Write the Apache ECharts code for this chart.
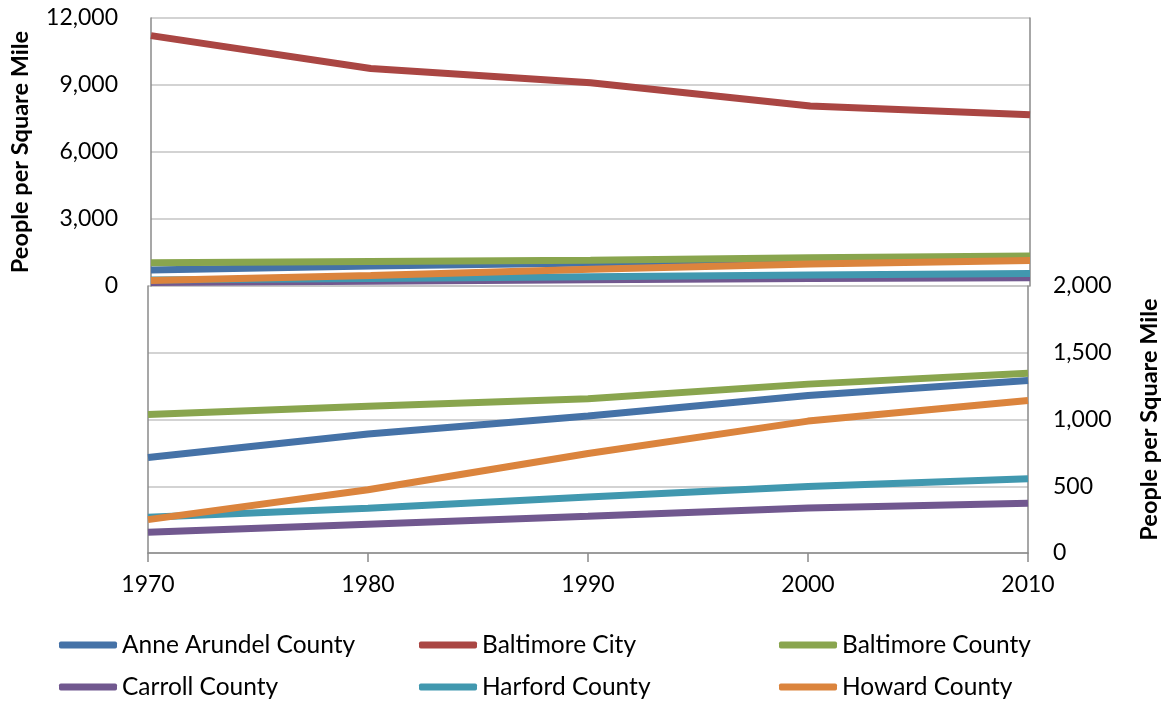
<!DOCTYPE html>
<html>
<head>
<meta charset="utf-8">
<script src="https://cdn.jsdelivr.net/npm/echarts@6/dist/echarts.min.js"></script>
<style>
  html, body { margin: 0; padding: 0; background: #fff; }
  #chart { width: 1169px; height: 702px; }
</style>
</head>
<body>
<div id="chart"></div>
<script>
// years on the x axis
var years = ['1970', '1980', '1990', '2000', '2010'];

// people per square mile
var anneArundel    = [716, 892, 1026, 1180, 1293];
var baltimoreCity  = [11210, 9735, 9105, 8060, 7670];
var baltimoreCnty  = [1037, 1100, 1155, 1265, 1347];
var carroll        = [155, 216, 276, 337, 373];
var harford        = [268, 335, 419, 498, 557];
var howard         = [250, 474, 745, 988, 1143];

var names  = ['Anne Arundel County', 'Baltimore City', 'Baltimore County', 'Carroll County', 'Harford County', 'Howard County'];
var colors = ['#4572A7', '#AA4643', '#89A54E', '#71588F', '#4198AF', '#DB843D'];
var values = [anneArundel, baltimoreCity, baltimoreCnty, carroll, harford, howard];

var FONT = 'Lato';
var axisGray = '#8A8A8A';
var gridGray = '#C4C4C4';

function fmt(v) {
    return String(v).replace(/\B(?=(\d{3})+(?!\d))/g, ',');
}

var chart = echarts.init(document.getElementById('chart'));

// top panel: all counties, 0 - 12,000
var series = [];
names.forEach(function (n, i) {
    series.push({
        name: n, type: 'line', xAxisIndex: 0, yAxisIndex: 0,
        data: values[i], symbol: 'none', animation: false,
        lineStyle: { width: 7, color: colors[i] }, itemStyle: { color: colors[i] }
    });
});
// bottom panel: without Baltimore City, 0 - 2,000
names.forEach(function (n, i) {
    if (i === 1) return;
    series.push({
        name: n, type: 'line', xAxisIndex: 1, yAxisIndex: 2,
        data: values[i], symbol: 'none', animation: false,
        lineStyle: { width: 7, color: colors[i] }, itemStyle: { color: colors[i] }
    });
});

chart.setOption({
    backgroundColor: '#fff',
    textStyle: { fontFamily: FONT },
    grid: [
        { left: 148, right: 139, top: 18, height: 268 },
        { left: 148, right: 139, top: 286, height: 267 }
    ],
    legend: {
        data: names,
        left: 59, top: 624, width: 1100, padding: 0,
        itemWidth: 58, itemHeight: 7, itemGap: 0,
        icon: 'roundRect',
        textStyle: { fontFamily: FONT, fontSize: 24.5, color: '#000', width: 297, lineHeight: 42 }
    },
    xAxis: [
        {
            gridIndex: 0, type: 'category', data: years, boundaryGap: false,
            axisLine: { show: false }, axisTick: { show: false }, axisLabel: { show: false },
            splitLine: { show: false }
        },
        {
            gridIndex: 1, type: 'category', data: years, boundaryGap: false,
            axisLine: { lineStyle: { color: axisGray, width: 1.5 } },
            axisTick: { length: 9, lineStyle: { color: axisGray, width: 1.5 } },
            axisLabel: { fontFamily: FONT, fontSize: 23, color: '#000', margin: 20 },
            splitLine: { show: false }
        }
    ],
    yAxis: [
        {
            gridIndex: 0, type: 'value', position: 'left',
            min: 0, max: 12000, interval: 3000,
            axisLine: { show: true, lineStyle: { color: axisGray, width: 1.5 } },
            axisTick: { show: false },
            axisLabel: { fontFamily: FONT, fontSize: 23, color: '#000', margin: 33, formatter: fmt },
            splitLine: { lineStyle: { color: gridGray, width: 1.5 } },
            name: 'People per Square Mile', nameLocation: 'middle', nameGap: 119,
            nameTextStyle: { fontFamily: FONT, fontSize: 23.5, fontWeight: 'bold', color: '#000' }
        },
        {
            gridIndex: 0, type: 'value', position: 'right',
            min: 0, max: 12000, interval: 3000,
            axisLine: { show: true, lineStyle: { color: axisGray, width: 1.5 } },
            axisTick: { show: false }, axisLabel: { show: false }, splitLine: { show: false }
        },
        {
            gridIndex: 1, type: 'value', position: 'right',
            min: 0, max: 2000, interval: 500,
            axisLine: { show: true, lineStyle: { color: axisGray, width: 1.5 } },
            axisTick: { show: false },
            axisLabel: { fontFamily: FONT, fontSize: 23, color: '#000', margin: 25, formatter: fmt },
            splitLine: { lineStyle: { color: gridGray, width: 1.5 } },
            name: 'People per Square Mile', nameLocation: 'middle', nameGap: 109,
            nameTextStyle: { fontFamily: FONT, fontSize: 23.5, fontWeight: 'bold', color: '#000' }
        },
        {
            gridIndex: 1, type: 'value', position: 'left',
            min: 0, max: 2000, interval: 500,
            axisLine: { show: true, lineStyle: { color: axisGray, width: 1.5 } },
            axisTick: { show: false }, axisLabel: { show: false }, splitLine: { show: false }
        }
    ],
    series: series
});
</script>
</body>
</html>
